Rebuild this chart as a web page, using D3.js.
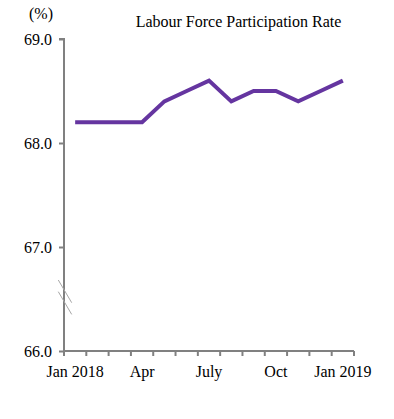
<!DOCTYPE html>
<html><head><meta charset="utf-8">
<script src="https://cdn.jsdelivr.net/npm/d3@7"></script>
<style>body{margin:0;background:#fff}svg{display:block}text{font-family:"Liberation Serif","Times New Roman",serif;fill:#000}</style>
</head><body>
<svg id="c" width="394" height="419"></svg>
<script>
const months = ["Jan 2018","Feb","Mar","Apr","May","Jun","July","Aug","Sep","Oct","Nov","Dec","Jan 2019"];
const rate = [68.2,68.2,68.2,68.2,68.4,68.5,68.6,68.4,68.5,68.5,68.4,68.5,68.6];
const shownLabels = ["Jan 2018","Apr","July","Oct","Jan 2019"];
const yTicks = [66.0,67.0,68.0,69.0];

(function(){
const svg = d3.select("#c");
const mL = 64, mR = 354, mT = 39, mB = 351;
const x = d3.scaleBand().domain(months).range([mL, mR]);
const y = d3.scaleLinear().domain([66, 69]).range([mB, mT]);

// y axis
const ya = svg.append("g").attr("transform", `translate(${mL},0)`)
  .call(d3.axisLeft(y).tickValues(yTicks).tickFormat(d3.format(".1f")).tickSize(5).tickPadding(7));
ya.attr("font-family", "Liberation Serif");
ya.select(".domain").attr("stroke", "#808080").attr("stroke-width", 2).attr("d", `M-5,${mT}H0V${mB}`);
ya.selectAll(".tick line").attr("stroke", "#808080").attr("stroke-width", 2);
ya.selectAll(".tick text").attr("font-size", 16).attr("font-family", "Liberation Serif").attr("fill", "#000");

// x axis with ticks at band boundaries
const xa = svg.append("g").attr("transform", `translate(0,${mB})`);
xa.append("path").attr("d", `M${mL},0H${mR}`).attr("stroke", "#808080").attr("stroke-width", 2).attr("fill", "none");
const bounds = months.map(m => x(m)).concat([x(months[months.length-1]) + x.bandwidth()]);
xa.selectAll("line.t").data(bounds).join("line").attr("class","t")
  .attr("x1", d => d).attr("x2", d => d).attr("y1", 0).attr("y2", 5)
  .attr("stroke", "#808080").attr("stroke-width", 2);
xa.selectAll("text").data(shownLabels).join("text")
  .attr("x", d => x(d) + x.bandwidth()/2).attr("y", 26)
  .attr("text-anchor", "middle").attr("font-size", 16).text(d => d);

// break marks
[280, 291.7].forEach(y0 => {
  svg.append("line").attr("x1", 58.3).attr("y1", y0).attr("x2", 71.7).attr("y2", y0 + 22.7)
    .attr("stroke", "#a6a6a6").attr("stroke-width", 1);
});

// line
const line = d3.line().x((d, i) => x(months[i]) + x.bandwidth()/2).y(d => y(d));
svg.append("path").datum(rate).attr("d", line).attr("fill", "none")
  .attr("stroke", "#6535a0").attr("stroke-width", 4).attr("stroke-linejoin", "miter");

// titles
svg.append("text").attr("x", 238.5).attr("y", 27).attr("text-anchor", "middle").attr("font-size", 16)
  .text("Labour Force Participation Rate");
svg.append("text").attr("x", 41).attr("y", 19).attr("text-anchor", "middle").attr("font-size", 16).text("(%)");
})();
</script>
</body></html>
